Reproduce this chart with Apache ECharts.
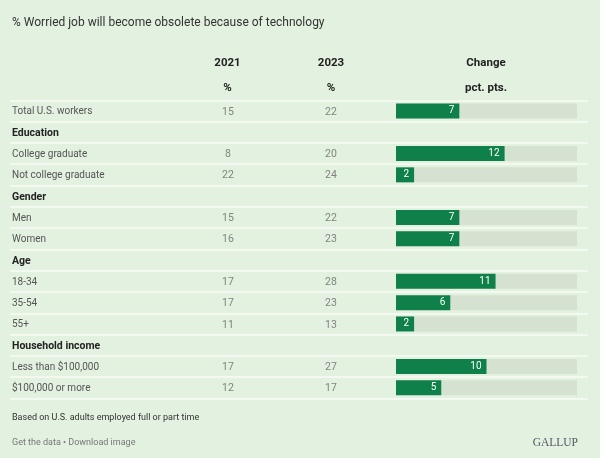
<!DOCTYPE html>
<html><head><meta charset="utf-8">
<script src="https://cdn.jsdelivr.net/npm/echarts@6/dist/echarts.min.js"></script>
<style>html,body{margin:0;padding:0;background:#e3f1e0}#c{width:600px;height:458px}</style>
</head><body><div id="c"></div>
<script>
// Rows (top to bottom). Header rows have null values.
const categories = ['Total U.S. workers','Education','College graduate','Not college graduate','Gender','Men','Women','Age','18-34','35-54','55+','Household income','Less than $100,000','$100,000 or more'];
const headerRows = ['Education','Gender','Age','Household income'];
const v2021 = [15, null, 8, 22, null, 15, 16, null, 17, 17, 11, null, 17, 12];
const v2023 = [22, null, 20, 24, null, 22, 23, null, 28, 23, 13, null, 27, 17];
const change = [7, null, 12, 2, null, 7, 7, null, 11, 6, 2, null, 10, 5];
const changeMax = 20;
const colHeaders = [['2021','%'],['2023','%'],['Change','pct. pts.']];

const FONT = 'Roboto';
const TOP = 100.3, H = 298.2;
const chart = echarts.init(document.getElementById('c'), null, {renderer:'canvas'});
const catAxis = (gi, extra) => Object.assign({type:'category', gridIndex:gi, data:categories, inverse:true,
  axisLine:{show:false}, axisTick:{show:false}, axisLabel:{show:false}, splitLine:{show:false}}, extra||{});
const valAxis = (gi, min, max) => ({type:'value', gridIndex:gi, min, max, show:false});
const textSeries = (gi, arr) => ({type:'scatter', xAxisIndex:gi, yAxisIndex:gi, symbolSize:0, silent:true,
  data: arr.map((v,i)=> v==null ? null : [0, categories[i], v]),
  label:{show:true, position:'inside', offset:[0,1], formatter:p=>p.data[2], color:'#666', fontSize:10.5, fontFamily:FONT}});

chart.setOption({
  backgroundColor:'#e3f1e0',
  animation:false,
  title:{text:'% Worried job will become obsolete because of technology', left:7, top:12,
    textStyle:{fontSize:12, fontWeight:'normal', color:'#333', fontFamily:FONT}},
  grid:[
    {left:10, width:578, top:TOP, height:H},
    {left:208, width:40, top:TOP, height:H},
    {left:311, width:40, top:TOP, height:H},
    {left:396, width:181, top:TOP, height:H}
  ],
  xAxis:[valAxis(0,-1,1), valAxis(1,-1,1), valAxis(2,-1,1), valAxis(3,0,changeMax)],
  yAxis:[
    catAxis(0,{axisLabel:{show:true, inside:true, margin:2, fontFamily:FONT, fontSize:10, color:'#555',
        padding:[2,0,0,0],
        formatter:v=> headerRows.includes(v) ? '{h|'+v+'}' : v,
        rich:{h:{fontWeight:'bold', color:'#222', fontSize:10.5, fontFamily:FONT}}},
      splitLine:{show:true, lineStyle:{color:'#f3f9f1', width:2}}}),
    catAxis(1), catAxis(2), catAxis(3)
  ],
  series:[
    textSeries(1, v2021),
    textSeries(2, v2023),
    {type:'bar', xAxisIndex:3, yAxisIndex:3, barWidth:15, barGap:'-100%', silent:true,
     data: change.map(v=> v==null ? '-' : changeMax), itemStyle:{color:'#d5e2d2'}},
    {type:'bar', xAxisIndex:3, yAxisIndex:3, barWidth:15, silent:true,
     data: change.map(v=> v==null ? '-' : v), itemStyle:{color:'#10804a'},
     label:{show:true, position:'insideRight', distance:5, color:'#fff', fontSize:10, fontFamily:FONT}}
  ],
  graphic: [
    ...colHeaders.flatMap((hd, k) => {
      const x = [227.5, 331, 486][k];
      return hd.map((t, j) => ({type:'text', x, y:[63,88][j], style:{text:t, align:'center', verticalAlign:'middle',
        font:'bold 11.5px '+FONT, fill:'#222'}}));
    }),
    {type:'text', x:12, y:418, style:{text:'Based on U.S. adults employed full or part time', verticalAlign:'middle', font:'9px '+FONT, fill:'#333'}},
    {type:'text', x:12, y:443, style:{text:'Get the data \u2022 Download image', verticalAlign:'middle', font:'9px '+FONT, fill:'#777'}},
    {type:'text', x:578, y:443, style:{text:'GALLUP', align:'right', verticalAlign:'middle', font:'11.5px "Liberation Serif", serif', fill:'#556'}}
  ]
});
</script></body></html>
